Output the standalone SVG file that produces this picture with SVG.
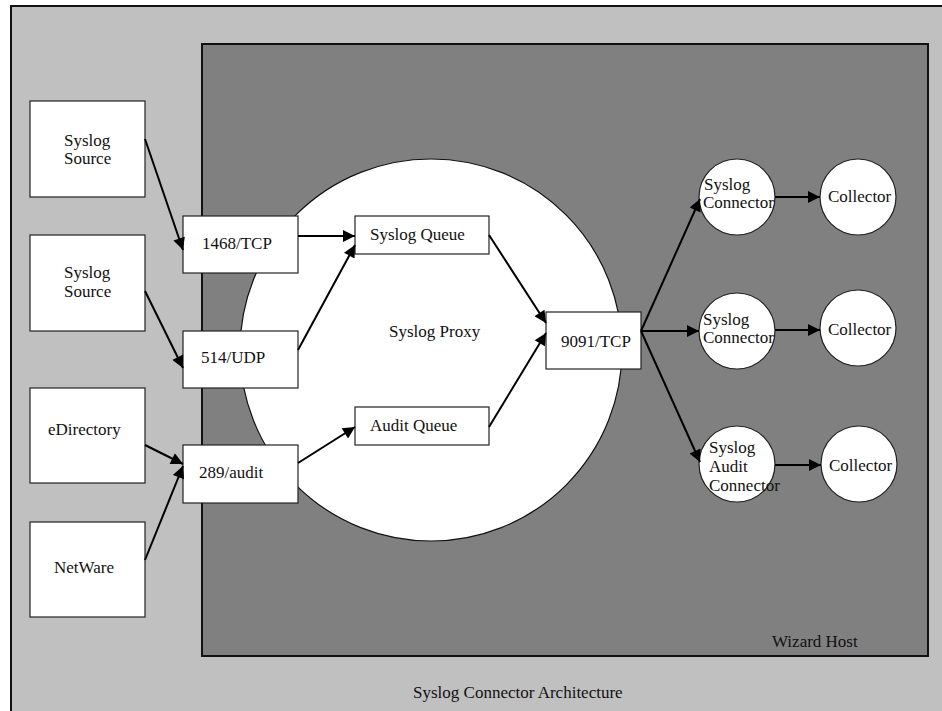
<svg xmlns="http://www.w3.org/2000/svg" width="942" height="711" viewBox="0 0 942 711">
<style>
text{font-family:"Liberation Serif","Times New Roman",serif;font-size:17px;fill:#111}
.box{fill:#fff;stroke:#222;stroke-width:1.2}
.conn line{stroke:#000;stroke-width:2;marker-end:url(#ah)}
</style>
<defs>
<marker id="ah" viewBox="0 0 10 10" refX="10" refY="5" markerWidth="7.5" markerHeight="6" orient="auto"><path d="M0,0 L10,5 L0,10 z" fill="#000"/></marker>
</defs>
<rect x="0" y="0" width="942" height="711" fill="#fff"/>
<g id="outer"><rect x="11" y="6" width="945" height="720" fill="#c0c0c0" stroke="#111" stroke-width="2"/>
<text x="413" y="698">Syslog Connector Architecture</text></g>
<g id="wizard-host"><rect x="202" y="44" width="726" height="612" fill="#808080" stroke="#111" stroke-width="2"/>
<text x="772" y="647">Wizard Host</text></g>
<g id="syslog-proxy"><circle cx="431" cy="350" r="191" fill="#fff" stroke="#111" stroke-width="1.2"/>
<text x="389" y="337">Syslog Proxy</text></g>
<g id="src1"><rect class="box" x="30" y="101" width="115" height="96"/><text x="64" y="146">Syslog</text><text x="64" y="164">Source</text></g>
<g id="src2"><rect class="box" x="30" y="235" width="115" height="96"/><text x="64" y="278">Syslog</text><text x="64" y="297">Source</text></g>
<g id="edir"><rect class="box" x="30" y="388" width="115" height="95"/><text x="48" y="435">eDirectory</text></g>
<g id="netware"><rect class="box" x="30" y="522" width="115" height="95"/><text x="54" y="573">NetWare</text></g>
<g id="p1468"><rect class="box" x="183" y="216" width="115" height="57"/><text x="202" y="249">1468/TCP</text></g>
<g id="p514"><rect class="box" x="183" y="331" width="115" height="57"/><text x="201" y="363">514/UDP</text></g>
<g id="p289"><rect class="box" x="183" y="445" width="115" height="58"/><text x="199" y="478">289/audit</text></g>
<g id="syslog-queue"><rect class="box" x="355" y="216" width="134" height="38"/><text x="370" y="240">Syslog Queue</text></g>
<g id="audit-queue"><rect class="box" x="355" y="407" width="134" height="38"/><text x="370" y="431">Audit Queue</text></g>
<g id="p9091"><rect class="box" x="546" y="312" width="95" height="57"/><text x="561" y="347">9091/TCP</text></g>
<g id="sc1"><circle class="box" cx="737" cy="197" r="38"/><text x="704" y="190">Syslog</text><text x="703" y="208">Connector</text></g>
<g id="sc2"><circle class="box" cx="737" cy="331" r="38"/><text x="703" y="325">Syslog</text><text x="703" y="343">Connector</text></g>
<g id="sc3"><circle class="box" cx="737" cy="464" r="38"/><text x="709" y="453">Syslog</text><text x="709" y="472">Audit</text><text x="709" y="491">Connector</text></g>
<g id="col1"><circle class="box" cx="858" cy="197" r="38"/><text x="828" y="202">Collector</text></g>
<g id="col2"><circle class="box" cx="858" cy="328" r="38"/><text x="828" y="335">Collector</text></g>
<g id="col3"><circle class="box" cx="859" cy="464" r="38"/><text x="829" y="471">Collector</text></g>
<g id="connectors" class="conn">
<line x1="145" y1="139" x2="183" y2="250"/>
<line x1="145" y1="291" x2="183" y2="368"/>
<line x1="145" y1="445" x2="183" y2="464"/>
<line x1="145" y1="560" x2="183" y2="466"/>
<line x1="298" y1="236" x2="355" y2="236"/>
<line x1="298" y1="350" x2="355" y2="245"/>
<line x1="298" y1="463" x2="355" y2="427"/>
<line x1="489" y1="235" x2="546" y2="323"/>
<line x1="489" y1="427" x2="546" y2="333"/>
<line x1="641" y1="331" x2="700" y2="199"/>
<line x1="641" y1="331" x2="699" y2="331"/>
<line x1="641" y1="331" x2="700" y2="462"/>
<line x1="775" y1="197" x2="820" y2="197"/>
<line x1="775" y1="330" x2="820" y2="330"/>
<line x1="775" y1="465" x2="821" y2="465"/>
</g>
</svg>
